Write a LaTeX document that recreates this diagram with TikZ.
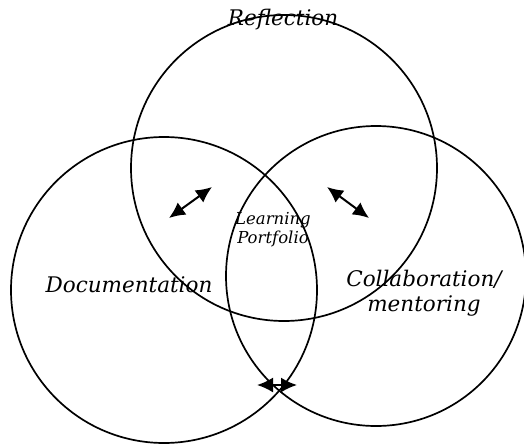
\documentclass[tikz,border=0pt]{standalone}
\usepackage{fontspec}
\setmainfont{DejaVu Serif}
\usetikzlibrary{arrows.meta}
\begin{document}
\begin{tikzpicture}[x=1pt,y=-1pt,
  ring/.style={draw=black,line width=1.7pt},
  lbl/.style={font=\itshape\fontsize{21.5}{25}\selectfont,inner sep=0pt,align=center},
  small/.style={font=\itshape\fontsize{16.5}{19}\selectfont,inner sep=0pt,align=center},
  dbl/.style={{Latex[length=16pt,width=15pt]}-{Latex[length=16pt,width=15pt]},line width=2pt}]
\useasboundingbox (0,0) rectangle (524,444);
\node[ring,circle,minimum size=306pt,inner sep=0pt] (refl) at (284,168) {};
\node[ring,circle,minimum size=306pt,inner sep=0pt] (doc) at (164,290) {};
\node[ring,circle,minimum size=300pt,inner sep=0pt] (coll) at (376,276) {};
\node[lbl] (tR) at (283,20) {Reflection};
\node[lbl] (tD) at (129,285) {Documentation};
\node[lbl] (tC) at (424,293) {Collaboration/\\mentoring};
\node[small] (tL) at (273,230) {Learning\\Portfolio};
\coordinate (a1) at (169,218);
\coordinate (a2) at (212,187);
\coordinate (b1) at (327,187);
\coordinate (b2) at (369,218);
\coordinate (c1) at (257,385);
\coordinate (c2) at (297,385);
\draw[dbl] (a1) -- (a2);
\draw[dbl] (b1) -- (b2);
\draw[dbl] (c1) -- (c2);
\end{tikzpicture}
\end{document}
